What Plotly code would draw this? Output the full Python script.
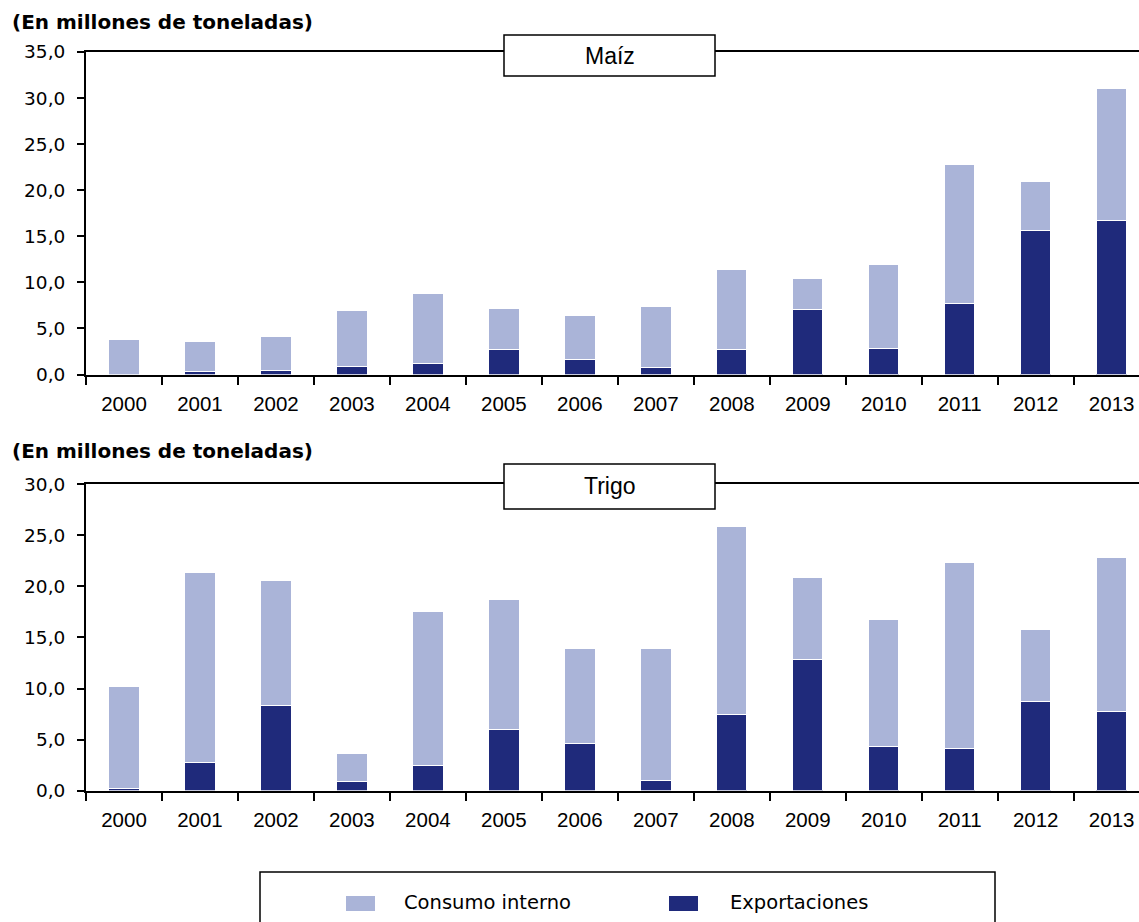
import plotly.graph_objects as go

# ---------------- data ----------------
years = [str(y) for y in range(2000, 2014)]

maiz_exportaciones = [0.0, 0.3, 0.4, 0.9, 1.2, 2.7, 1.6, 0.8, 2.7, 7.1, 2.8, 7.7, 15.6, 16.7]
maiz_consumo = [3.8, 3.3, 3.7, 6.0, 7.6, 4.5, 4.8, 6.6, 8.7, 3.3, 9.1, 15.1, 5.3, 14.3]

trigo_exportaciones = [0.2, 2.8, 8.3, 0.9, 2.5, 6.0, 4.6, 1.0, 7.5, 12.8, 4.3, 4.1, 8.7, 7.7]
trigo_consumo = [10.0, 18.6, 12.3, 2.7, 15.0, 12.7, 9.3, 12.9, 18.4, 8.1, 12.5, 18.2, 7.1, 15.1]

series_names = ["Consumo interno", "Exportaciones"]
panel_titles = ["Maíz", "Trigo"]
unit_label = "(En millones de toneladas)"
maiz_yticks = [0, 5, 10, 15, 20, 25, 30, 35]
trigo_yticks = [0, 5, 10, 15, 20, 25, 30]

# ---------------- style ----------------
W, H = 1139, 922
LIGHT = "#AAB4D8"
DARK = "#1F2A7B"
TICK_FONT = dict(family="DejaVu Sans", size=18.5, color="#000000")
YEAR_FONT = dict(family="Liberation Sans", size=20.5, color="#000000")


def px(x):
    return x / W


def py(y):
    return 1 - y / H


fig = go.Figure()

panels = [
    (maiz_consumo, maiz_exportaciones, "x", "y"),
    (trigo_consumo, trigo_exportaciones, "x2", "y2"),
]
for cons, exp, xa, ya in panels:
    fig.add_trace(go.Bar(
        x=years, y=exp, name=series_names[1], xaxis=xa, yaxis=ya,
        marker=dict(color=DARK, line=dict(color="#FFFFFF", width=1)),
        showlegend=False,
    ))
    fig.add_trace(go.Bar(
        x=years, y=cons, name=series_names[0], xaxis=xa, yaxis=ya,
        marker=dict(color=LIGHT, line=dict(color="#FFFFFF", width=1)),
        showlegend=False,
    ))

xcommon = dict(
    type="category", range=[-0.5, 13.36], autorange=False,
    showline=True, linecolor="#000000", linewidth=2, mirror=True,
    ticks="outside", tickson="boundaries", ticklen=8, tickwidth=2, tickcolor="#000000",
    showgrid=False, zeroline=False, tickfont=YEAR_FONT, ticklabelstandoff=10,
    automargin=False, fixedrange=True,
)
ycommon = dict(
    showline=True, linecolor="#000000", linewidth=2, mirror=False,
    ticks="outside", ticklen=7, tickwidth=2, tickcolor="#000000",
    showgrid=False, zeroline=False, tickfont=TICK_FONT, tickformat=".1f",
    ticklabelstandoff=8, automargin=False, fixedrange=True,
)

fig.update_layout(
    width=W, height=H,
    margin=dict(l=0, r=0, t=0, b=0),
    paper_bgcolor="#FFFFFF", plot_bgcolor="#FFFFFF",
    barmode="stack", bargap=0.6,
    separators=",.",
    showlegend=False,
    xaxis=dict(domain=[px(86), 1], anchor="y", **xcommon),
    yaxis=dict(domain=[py(374.5), py(52)], anchor="x", range=[0, 35],
               tickvals=maiz_yticks, **ycommon),
    xaxis2=dict(domain=[px(86), 1], anchor="y2", **xcommon),
    yaxis2=dict(domain=[py(790.6), py(484.3)], anchor="x2", range=[0, 30],
                tickvals=trigo_yticks, **ycommon),
)

shapes = []
annotations = []

# unit labels
for ycen in (22, 451):
    annotations.append(dict(
        text="<b>" + unit_label + "</b>", xref="paper", yref="paper",
        x=px(10), y=py(ycen), xanchor="left", yanchor="middle", showarrow=False,
        font=dict(family="DejaVu Sans", size=20, color="#000000"),
    ))

# panel title boxes
for title, (top, bottom) in zip(panel_titles, [(35, 76), (464, 509)]):
    shapes.append(dict(
        type="rect", xref="paper", yref="paper", layer="above",
        x0=px(504), x1=px(715), y0=py(bottom), y1=py(top),
        fillcolor="#FFFFFF", line=dict(color="#000000", width=1.5),
    ))
    annotations.append(dict(
        text=title, xref="paper", yref="paper",
        x=px(610), y=py((top + bottom) / 2), xanchor="center", yanchor="middle",
        showarrow=False, font=dict(family="Liberation Sans", size=23, color="#000000"),
    ))

# legend box
shapes.append(dict(
    type="rect", xref="paper", yref="paper", layer="above",
    x0=px(260), x1=px(995), y0=py(940), y1=py(872),
    fillcolor="rgba(0,0,0,0)", line=dict(color="#000000", width=1.5),
))
legend_items = [(series_names[0], LIGHT, 346, 402), (series_names[1], DARK, 669, 728)]
for name, color, sx, tx in legend_items:
    shapes.append(dict(
        type="rect", xref="paper", yref="paper", layer="above",
        x0=px(sx), x1=px(sx + 29), y0=py(911), y1=py(896),
        fillcolor=color, line=dict(width=0),
    ))
    annotations.append(dict(
        text=name, xref="paper", yref="paper",
        x=px(tx), y=py(902), xanchor="left", yanchor="middle", showarrow=False,
        font=dict(family="DejaVu Sans", size=19.5, color="#000000"),
    ))

fig.update_layout(shapes=shapes, annotations=annotations)

fig.write_html("out.html", post_script="document.body.style.margin='0';",
               config={"displayModeBar": False})
